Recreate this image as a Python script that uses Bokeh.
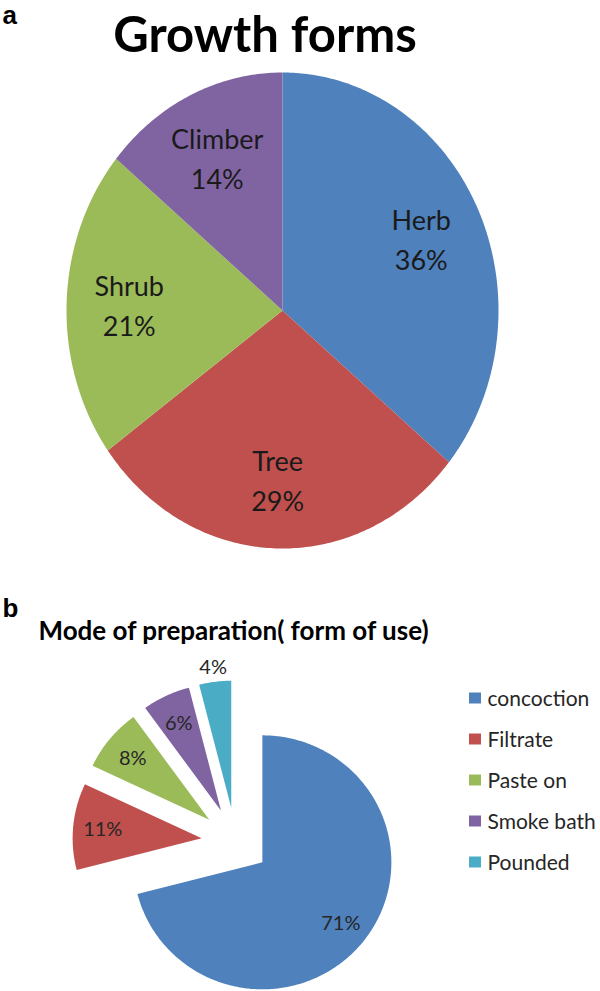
import numpy as np
from bokeh.plotting import figure
from bokeh.models import Range1d, ColumnDataSource
from bokeh.core.properties import value
from bokeh.embed import file_html
from bokeh.resources import INLINE

# ---- data ----
growth_forms = ["Herb", "Tree", "Shrub", "Climber"]
growth_pct = [36, 29, 21, 14]
prep_modes = ["concoction", "Filtrate", "Paste on", "Smoke bath", "Pounded"]
prep_pct = [71, 11, 8, 6, 4]
palette = ["#4F81BD", "#C0504D", "#9BBB59", "#8064A2", "#4BACC6"]
title_a = "Growth forms"
title_b = "Mode of  preparation( form of use)"

FONT = "Lato"
W, H = 600, 991
SHIFT = 0.38  # empirical baseline correction (fraction of font size)


def wedge_geometry(values, cx, cy, rx, ry, explode=0.0):
    total = float(sum(values))
    xs, ys, mids, vx, vy = [], [], [], [], []
    start = 0.0
    for v in values:
        a0 = 2 * np.pi * start / total
        a1 = 2 * np.pi * (start + v) / total
        mid = (a0 + a1) / 2
        ox = cx + explode * np.sin(mid)
        oy = cy - explode * np.cos(mid)
        t = np.linspace(a0, a1, max(12, int(v * 5)))
        xs.append(list(np.concatenate([[ox], ox + rx * np.sin(t)])))
        ys.append(list(np.concatenate([[oy], oy - ry * np.cos(t)])))
        mids.append(mid)
        vx.append(ox)
        vy.append(oy)
        start += v
    return xs, ys, np.array(mids), np.array(vx), np.array(vy)


def baseline(y, fs):
    return np.asarray(y, dtype=float) - SHIFT * fs


p = figure(width=W, height=H, output_backend="svg", toolbar_location=None,
           x_range=Range1d(0, 600), y_range=Range1d(991, 0),
           min_border=0, outline_line_color=None)
p.axis.visible = False
p.grid.visible = False
p.background_fill_color = "white"
p.border_fill_color = "white"

# ---- panel a ----
ca_x, ca_y, ra_x, ra_y = 282, 310, 216, 238
xs, ys, mids, vx, vy = wedge_geometry(growth_pct, ca_x, ca_y, ra_x, ra_y)
p.patches(xs, ys, fill_color=palette[:len(growth_pct)], line_color=None)

fs_a = 27
f_a = 0.71
lab_x = ca_x + f_a * ra_x * np.sin(mids)
lab_y = ca_y - f_a * ra_y * np.cos(mids)
src_a = ColumnDataSource(dict(
    x=lab_x, yn=baseline(lab_y - 9, fs_a), yp=baseline(lab_y + 31, fs_a),
    name=growth_forms, pct=[f"{v}%" for v in growth_pct]))
for col, txt in (("yn", "name"), ("yp", "pct")):
    p.text(x="x", y=col, text=txt, source=src_a, text_font=value(FONT),
           text_font_size=f"{fs_a}px", text_align="center",
           text_baseline="alphabetic", text_color="#1a1a1a")

p.text(x=[264.5], y=baseline([51], 49), text=[title_a], text_font=value(FONT),
       text_font_size="49px", text_font_style="bold", text_align="center",
       text_baseline="alphabetic", text_color="black")
p.text(x=[2], y=baseline([24], 26), text=["a"], text_font=value("Liberation Sans"),
       text_font_size="26px", text_font_style="bold", text_align="left",
       text_baseline="alphabetic", text_color="black")

# ---- panel b ----
cb_x, cb_y, rb_x, rb_y = 235, 841, 129, 127
explode_b = 34
xs, ys, mids, vx, vy = wedge_geometry(prep_pct, cb_x, cb_y, rb_x, rb_y, explode_b)
p.patches(xs, ys, fill_color=palette[:len(prep_pct)], line_color=None)

fs_b = 20
f_b = np.array([0.77 if v >= 5 else 1.12 for v in prep_pct])
lb_x = vx + f_b * rb_x * np.sin(mids)
lb_y = vy - f_b * rb_y * np.cos(mids)
p.text(x=lb_x, y=baseline(lb_y + 7, fs_b), text=[f"{v}%" for v in prep_pct],
       text_font=value(FONT), text_font_size=f"{fs_b}px", text_align="center",
       text_baseline="alphabetic", text_color="#262626")

p.text(x=[38], y=baseline([639], 26), text=[title_b], text_font=value(FONT),
       text_font_size="26px", text_font_style="bold", text_align="left",
       text_baseline="alphabetic", text_color="black")
p.text(x=[2], y=baseline([617], 26), text=["b"], text_font=value("Liberation Sans"),
       text_font_size="26px", text_font_style="bold", text_align="left",
       text_baseline="alphabetic", text_color="black")

# legend
fs_l = 21
leg_y = 697.5 + 41 * np.arange(len(prep_modes))
p.rect(x=[474.5] * len(prep_modes), y=leg_y, width=12, height=11,
       fill_color=palette[:len(prep_modes)], line_color=None)
p.text(x=[487] * len(prep_modes), y=baseline(leg_y + 7, fs_l), text=prep_modes,
       text_font=value(FONT), text_font_size=f"{fs_l}px", text_align="left",
       text_baseline="alphabetic", text_color="#262626")

open("out.html", "w").write(file_html(p, INLINE))
